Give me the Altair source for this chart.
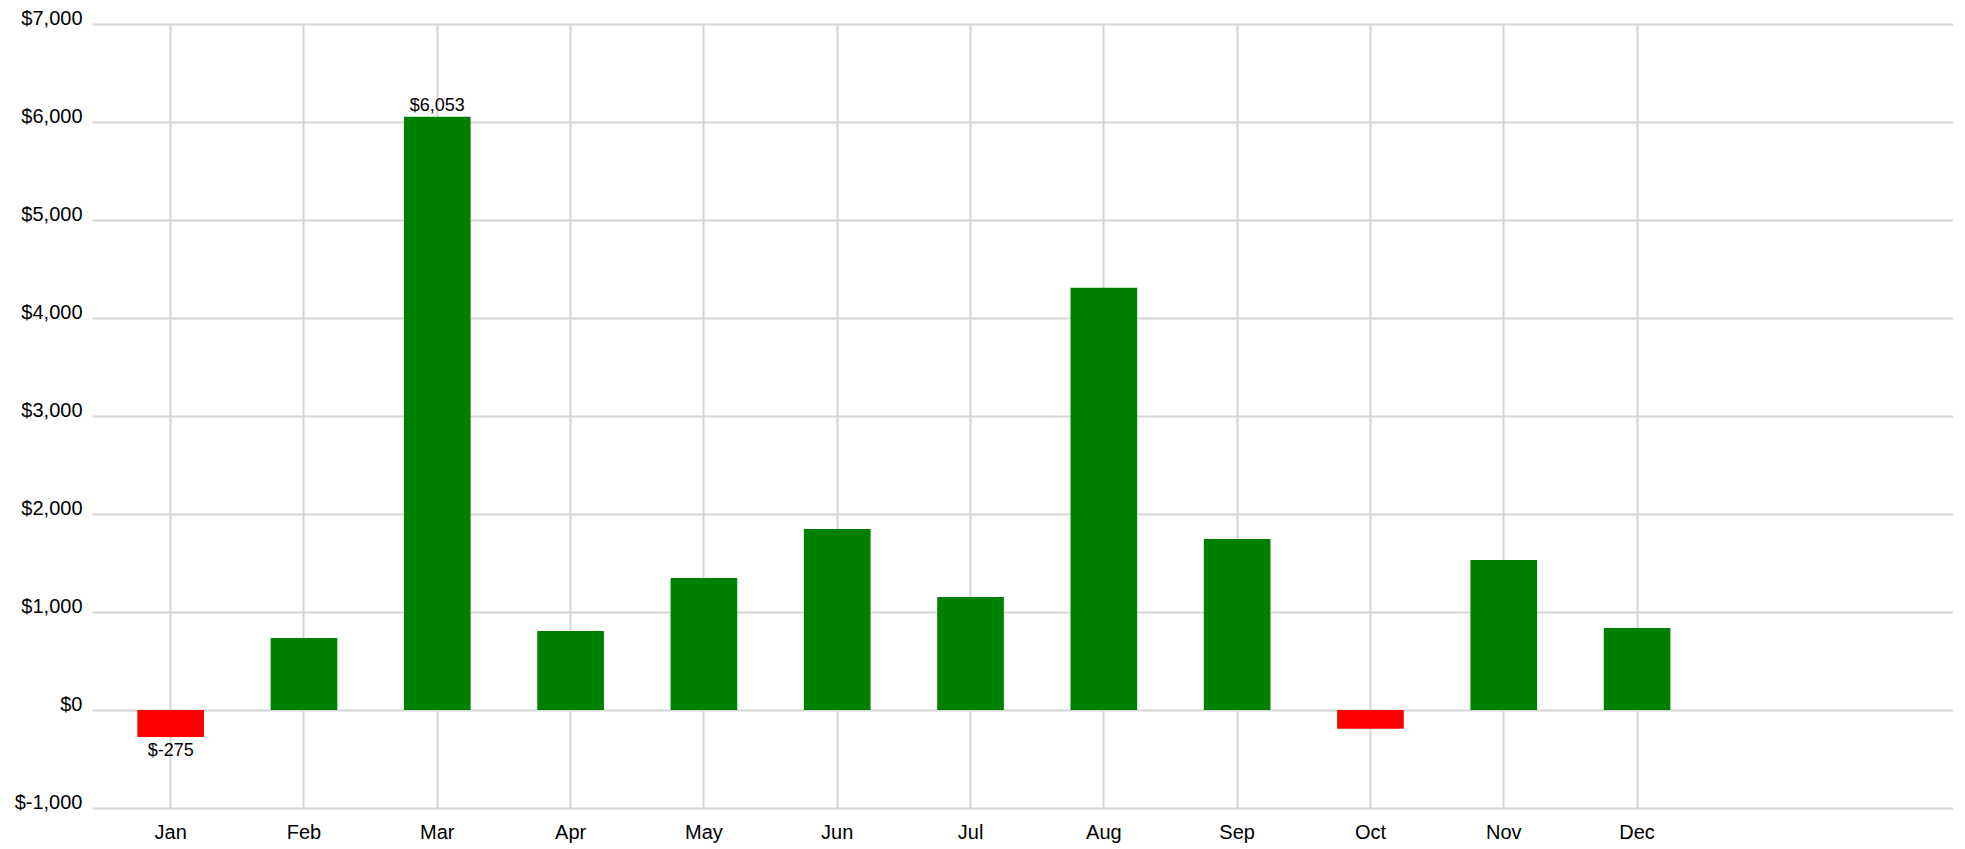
import altair as alt
import pandas as pd

months = ["Jan", "Feb", "Mar", "Apr", "May", "Jun", "Jul", "Aug", "Sep", "Oct", "Nov", "Dec"]
values = [-275, 735, 6053, 806, 1347, 1848, 1153, 4308, 1746, -191, 1531, 837]
y_ticks = [-1000, 0, 1000, 2000, 3000, 4000, 5000, 6000, 7000]

df = pd.DataFrame({"month": months, "value": values})

FONT = "Liberation Sans"
GRID = "#d6d6d6"

money_expr = "datum.value < 0 ? '$-' + format(-datum.value, ',') : '$' + format(datum.value, ',')"

x_domain = months + ["_pad"]
x_scale = alt.Scale(domain=x_domain, paddingInner=0.5, paddingOuter=0.73, align=0.233)
y_scale = alt.Scale(domain=[-1000, 7000], nice=False, zero=False)

x_enc = alt.X(
    "month:N",
    scale=x_scale,
    axis=alt.Axis(
        title=None, values=months, grid=True, gridColor=GRID, gridWidth=2, ticks=False, tickSize=0,
        domain=False, labelFont=FONT, labelFontSize=20, labelColor="#000000",
        labelBaseline="top", labelPadding=14, labelAngle=0,
    ),
)
y_enc = alt.Y(
    "value:Q",
    scale=y_scale,
    axis=alt.Axis(
        title=None, values=y_ticks, grid=True, gridColor=GRID, gridWidth=2,
        ticks=False, tickSize=0, domain=False, labelFont=FONT, labelFontSize=20,
        labelColor="#000000", labelBaseline="alphabetic", labelPadding=10,
        labelExpr=money_expr,
    ),
)

base = alt.Chart(df)

bars = base.mark_bar().encode(
    x=x_enc,
    y=y_enc,
    y2=alt.datum(0),
    color=alt.condition("datum.value < 0", alt.value("#ff0000"), alt.value("#008000")),
)

lbl = base.transform_joinaggregate(
    vmax="max(value)", vmin="min(value)"
).transform_calculate(
    label="datum.value < 0 ? '$-' + format(-datum.value, ',') : '$' + format(datum.value, ',')"
)

top_lbl = lbl.transform_filter("datum.value == datum.vmax").mark_text(
    font=FONT, fontSize=18, color="#000000", baseline="alphabetic", dy=-6
).encode(x=alt.X("month:N", scale=x_scale), y=alt.Y("value:Q", scale=y_scale), text="label:N")

bot_lbl = lbl.transform_filter("datum.value == datum.vmin").mark_text(
    font=FONT, fontSize=18, color="#000000", baseline="top", dy=5
).encode(x=alt.X("month:N", scale=x_scale), y=alt.Y("value:Q", scale=y_scale), text="label:N")

chart = alt.layer(bars, top_lbl, bot_lbl).properties(
    width=1861, height=784,
    background="#ffffff",
    autosize=alt.AutoSizeParams(type="none"),
    padding={"left": 84, "top": 16, "right": 0, "bottom": 40},
).configure_view(stroke=None, strokeWidth=0).configure_axis(
    domain=False, ticks=False
)

chart.save("out.html", embed_options={"renderer": "svg", "actions": False})
